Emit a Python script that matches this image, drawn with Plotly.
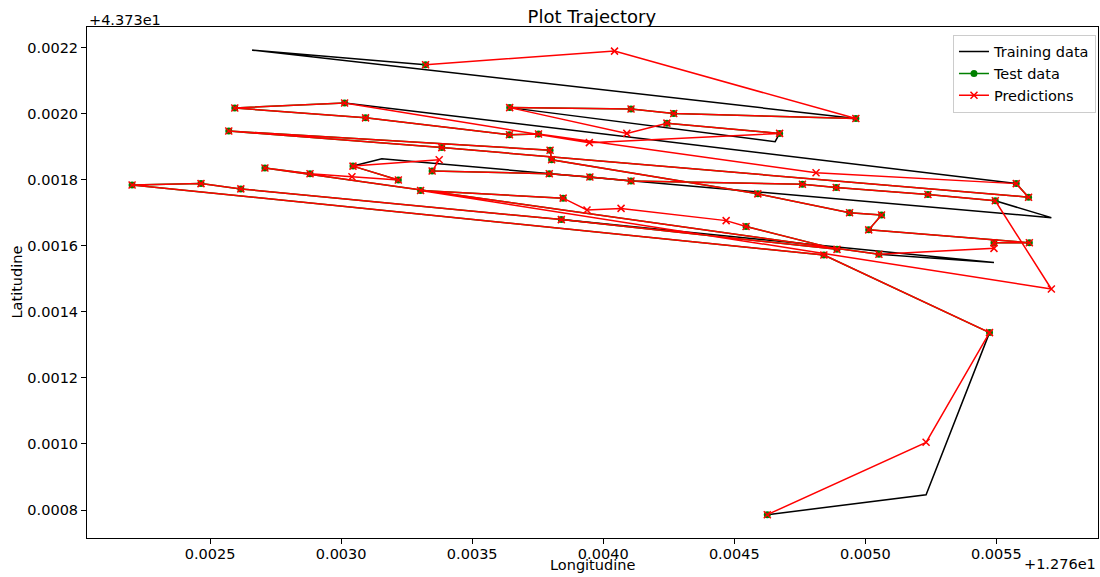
import plotly.graph_objects as go

LON0 = 12.76
LAT0 = 43.73

# Prediction trajectory (offsets from LON0 / LAT0)
pred_dlon = [0.003322, 0.004043, 0.004964, 0.004269, 0.004106, 0.003643, 0.004090, 0.004243, 0.004673, 0.003947,
             0.003013, 0.002594, 0.003093, 0.003642, 0.003753, 0.004812, 0.005576, 0.005623, 0.003384, 0.002571,
             0.003797, 0.003803, 0.004590, 0.004940, 0.005062, 0.005013, 0.005626, 0.005491, 0.005491, 0.005052,
             0.002709, 0.002881, 0.003041, 0.003218, 0.003045, 0.003374, 0.003347, 0.003794, 0.003949, 0.004106,
             0.004760, 0.004889, 0.005239, 0.005496, 0.005710, 0.003303, 0.003847, 0.003938, 0.004068, 0.004469,
             0.004545, 0.004892, 0.003840, 0.002617, 0.002465, 0.002202, 0.004842, 0.005474, 0.005232, 0.004626]
pred_dlat = [0.002148, 0.002189, 0.001985, 0.002000, 0.002014, 0.002018, 0.001940, 0.001971, 0.001940, 0.001912,
             0.002032, 0.002017, 0.001987, 0.001936, 0.001938, 0.001821, 0.001788, 0.001747, 0.001897, 0.001947,
             0.001889, 0.001860, 0.001757, 0.001700, 0.001693, 0.001648, 0.001609, 0.001609, 0.001592, 0.001574,
             0.001835, 0.001818, 0.001809, 0.001799, 0.001841, 0.001860, 0.001826, 0.001818, 0.001808, 0.001796,
             0.001786, 0.001776, 0.001755, 0.001736, 0.001469, 0.001767, 0.001744, 0.001708, 0.001713, 0.001676,
             0.001658, 0.001589, 0.001679, 0.001772, 0.001788, 0.001784, 0.001572, 0.001337, 0.001005, 0.000786]

# Test trajectory (None = gap where the prediction deviates from the test point)
test_dlon = [0.003322, None, 0.004964, 0.004269, 0.004106, 0.003643, None, 0.004243, 0.004673, None,
             0.003013, 0.002594, 0.003093, 0.003642, 0.003753, None, 0.005576, 0.005623, 0.003384, 0.002571,
             0.003797, 0.003803, 0.004590, 0.004940, 0.005062, 0.005013, 0.005626, 0.005491, None, 0.005052,
             0.002709, 0.002881, None, 0.003218, 0.003045, None, 0.003347, 0.003794, 0.003949, 0.004106,
             0.004760, 0.004889, 0.005239, 0.005496, None, 0.003303, 0.003847, None, None, None,
             0.004545, 0.004892, 0.003840, 0.002617, 0.002465, 0.002202, 0.004842, 0.005474, None, 0.004626]
test_dlat = [0.002148, None, 0.001985, 0.002000, 0.002014, 0.002018, None, 0.001971, 0.001940, None,
             0.002032, 0.002017, 0.001987, 0.001936, 0.001938, None, 0.001788, 0.001747, 0.001897, 0.001947,
             0.001889, 0.001860, 0.001757, 0.001700, 0.001693, 0.001648, 0.001609, 0.001609, None, 0.001574,
             0.001835, 0.001818, None, 0.001799, 0.001841, None, 0.001826, 0.001818, 0.001808, 0.001796,
             0.001786, 0.001776, 0.001755, 0.001736, None, 0.001767, 0.001744, None, None, None,
             0.001658, 0.001589, 0.001679, 0.001772, 0.001788, 0.001784, 0.001572, 0.001337, None, 0.000786]

# Training trajectory pieces (None = break)
train_dlon = [0.004626, 0.005232, 0.005474, None,
              0.005052, 0.005491, 0.003840, None,
              0.003045, 0.003155, 0.005710, 0.005496, None,
              0.003013, 0.005576, None,
              0.003643, 0.004656, 0.004673, None,
              0.004964, 0.002660, 0.003322]
train_dlat = [0.000786, 0.000846, 0.001337, None,
              0.001574, 0.001549, 0.001679, None,
              0.001841, 0.001863, 0.001685, 0.001736, None,
              0.002032, 0.001788, None,
              0.002018, 0.001915, 0.001940, None,
              0.001985, 0.002192, 0.002148]

x_ticks = [0.0025, 0.0030, 0.0035, 0.0040, 0.0045, 0.0050, 0.0055]
y_ticks = [0.0008, 0.0010, 0.0012, 0.0014, 0.0016, 0.0018, 0.0020, 0.0022]


def absl(vals, base):
    return [None if v is None else base + v for v in vals]


fig = go.Figure()
fig.add_trace(go.Scatter(x=absl(train_dlon, LON0), y=absl(train_dlat, LAT0), mode="lines",
                         name="Training data", line=dict(color="black", width=1.5),
                         connectgaps=False))
fig.add_trace(go.Scatter(x=absl(test_dlon, LON0), y=absl(test_dlat, LAT0), mode="lines+markers",
                         name="Test data", line=dict(color="green", width=1.5),
                         marker=dict(symbol="circle", size=7, color="green"), connectgaps=False))
fig.add_trace(go.Scatter(x=absl(pred_dlon, LON0), y=absl(pred_dlat, LAT0), mode="lines+markers",
                         name="Predictions", line=dict(color="red", width=1.5),
                         marker=dict(symbol="x-thin", size=7, color="red",
                                     line=dict(color="red", width=1.5))))

font = "DejaVu Sans, Verdana, sans-serif"
fig.update_layout(
    width=1100, height=577,
    margin=dict(l=87, r=2, t=27, b=39, autoexpand=False),
    paper_bgcolor="white", plot_bgcolor="white",
    font=dict(family=font, size=14.5, color="black"),
    title=dict(text="Plot Trajectory", x=0.538, xanchor="center", y=0.971, yanchor="middle",
               font=dict(size=18, family=font, color="black")),
    legend=dict(x=0.998, y=0.985, xanchor="right", yanchor="top", bgcolor="rgba(255,255,255,0.85)",
                bordercolor="#cccccc", borderwidth=1, font=dict(size=14.5, family=font),
                itemwidth=30, tracegroupgap=0),
    showlegend=True,
)
fig.update_xaxes(range=[LON0 + 0.002030, LON0 + 0.005888], showline=True, linecolor="black", linewidth=1,
                 mirror=True, ticks="outside", ticklen=5, tickcolor="black", showgrid=False, zeroline=False,
                 automargin=False, ticklabelstandoff=-2,
                 tickvals=[LON0 + t for t in x_ticks], ticktext=[f"{t:.4f}" for t in x_ticks],
                 tickfont=dict(size=14.5))
fig.update_yaxes(range=[LAT0 + 0.0007154, LAT0 + 0.002262], showline=True, linecolor="black", linewidth=1,
                 mirror=True, ticks="outside", ticklen=5, tickcolor="black", showgrid=False, zeroline=False,
                 automargin=False,
                 tickvals=[LAT0 + t for t in y_ticks], ticktext=[f"{t:.4f}" for t in y_ticks],
                 tickfont=dict(size=14.5))
# axis titles and matplotlib-style offset labels
fig.add_annotation(text="Longitudine", xref="paper", yref="paper", x=0.5, y=0, xanchor="center",
                   yanchor="middle", yshift=-27, showarrow=False, font=dict(size=14.5, family=font))
fig.add_annotation(text="Latitudine", xref="paper", yref="paper", x=0, y=0.5, xanchor="center",
                   yanchor="middle", xshift=-71, textangle=-90, showarrow=False,
                   font=dict(size=14.5, family=font))
fig.add_annotation(text="+4.373e1", xref="paper", yref="paper", x=0, y=1, xanchor="left", yanchor="middle",
                   showarrow=False, font=dict(size=14.5, family=font), yshift=7.5)
fig.add_annotation(text="+1.276e1", xref="paper", yref="paper", x=1, y=0, xanchor="right", yanchor="middle",
                   showarrow=False, font=dict(size=14.5, family=font), yshift=-26)
fig.write_html("out.html", config={"displayModeBar": False},
               post_script="document.body.style.margin='0px';")
